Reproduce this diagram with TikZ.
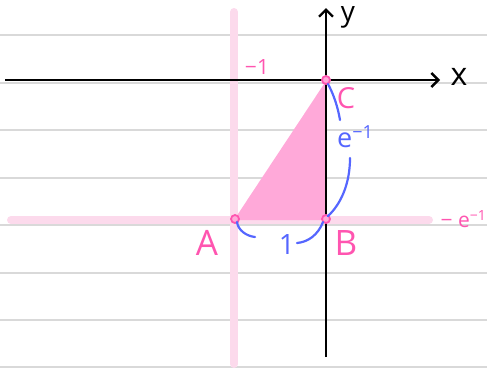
\documentclass[tikz,border=0pt]{standalone}
\usepackage{fontspec}
\setmainfont{Open Sans}
\usetikzlibrary{arrows.meta}
\definecolor{hpink}{HTML}{FF55B0}
\definecolor{lpink}{HTML}{FCDAEC}
\definecolor{fpink}{HTML}{FFA9D9}
\definecolor{hblue}{HTML}{5566FF}
\definecolor{rule}{HTML}{D9D9D9}
\newcommand{\fsz}[1]{\fontsize{#1}{#1}\selectfont}
\newcommand{\supr}[2]{\raisebox{#1}{\fsz{#2}−1}}
\tikzset{
  pinklbl/.style={text=hpink, inner sep=0pt},
  bluelbl/.style={text=hblue, inner sep=0pt},
  ptdot/.style={circle, draw=hpink, fill=fpink, line width=1.8pt, minimum size=8pt, inner sep=0pt},
  guide/.style={lpink, line width=8pt, line cap=round},
  axis/.style={black, line width=2.4pt, -{Straight Barb[length=7pt,width=14pt,line width=2.4pt]}},
  brace/.style={hblue, line width=2.2pt, line cap=round},
  ruled/.style={rule, line width=1.4pt}
}
\begin{document}
\begin{tikzpicture}[x=1pt,y=-1pt]
\useasboundingbox (0,0) rectangle (487,368);
\foreach \yy in {35,83,130,178,225,273,320,367} \draw[ruled] (0,\yy) -- (487,\yy);
\draw[guide] (234,12) -- (234,364);
\draw[guide] (11,220) -- (429,220);
\fill[fpink] (234,220) -- (326,220) -- (326,81) -- cycle;
\draw[axis] (5,80) -- (440,80);
\draw[axis] (326,357) -- (326,8);
\node[inner sep=0pt, font=\fsz{32}] (xl) at (459,77) {x};
\node[inner sep=0pt, font=\fsz{28}] (yl) at (348,17) {y};
\node[ptdot] (C) at (326,80) {};
\node[ptdot] (B) at (326,219) {};
\node[ptdot] (A) at (235,219) {};
\node[pinklbl, font=\fsz{29}] (Cl) at (346,98) {C};
\node[pinklbl, font=\fsz{35}] (Bl) at (346,243) {B};
\node[pinklbl, font=\fsz{35}] (Al) at (207,243) {A};
\node[pinklbl, font=\fsz{21}] (m1) at (257,67) {−1};
\node[pinklbl, font=\fsz{21}, anchor=east] (me) at (486,219) {− e\supr{7pt}{14}};
\node[bluelbl, font=\fsz{27}] (el) at (355,137) {e\supr{9pt}{18}};
\node[bluelbl, font=\fsz{28}] (one) at (287,244) {1};
\coordinate (c1) at (340,120);
\coordinate (c2) at (350,158);
\coordinate (a1) at (255,237);
\coordinate (a2) at (297,243);
\draw[brace] ([shift={(2,4)}]C.center) .. controls (334,95) and (338,108) .. (c1);
\draw[brace] (c2) .. controls (350,185) and (340,205) .. ([shift={(2,-3)}]B.center);
\draw[brace] ([shift={(2,3)}]A.center) .. controls (238,230) and (246,236) .. (a1);
\draw[brace] (a2) .. controls (308,242) and (318,235) .. ([shift={(-3,3)}]B.center);
\end{tikzpicture}
\end{document}
